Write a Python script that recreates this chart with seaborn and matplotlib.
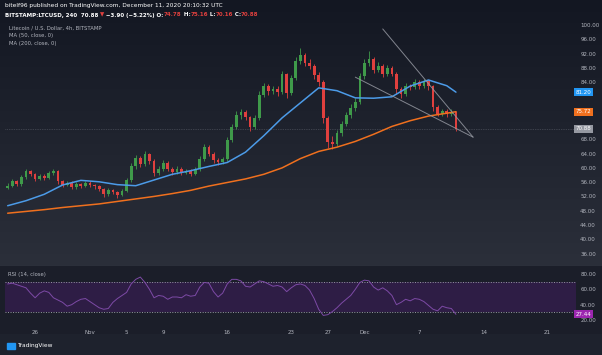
import numpy as np
import pandas as pd
import matplotlib
matplotlib.use("Agg")
import matplotlib.pyplot as plt
import matplotlib.dates as mdates
import matplotlib.transforms as mtransforms
from matplotlib.patches import Rectangle
import seaborn as sns

# ---- data (resampled to 12h candles) ----
first_open = 54.4
closes = [55.0, 56.2, 55.4, 57.5, 59.0, 58.2, 57.0, 57.8, 57.2, 58.6,
          59.2, 56.2, 55.2, 55.8, 54.6, 55.4, 55.0, 55.8, 55.2, 54.8,
          54.0, 52.6, 53.8, 53.2, 52.4, 53.6, 56.5, 60.5, 62.8, 61.0,
          63.8, 62.0, 58.6, 59.8, 61.4, 59.6, 58.8, 59.8, 58.6, 59.2,
          58.4, 59.6, 62.5, 65.8, 64.0, 62.2, 61.6, 62.4, 67.8, 71.5,
          74.8, 75.6, 74.2, 71.4, 74.0, 80.5, 82.8, 81.4, 82.0, 81.2,
          86.2, 81.0, 85.2, 89.8, 91.6, 89.4, 88.6, 86.0, 84.0, 74.0,
          67.2, 66.6, 69.8, 72.4, 74.8, 76.8, 78.4, 85.6, 89.4, 90.4,
          87.4, 88.6, 86.2, 88.0, 86.4, 82.0, 80.6, 83.0, 82.6, 84.0,
          82.8, 84.2, 82.8, 77.0, 75.2, 75.8, 75.0, 75.6, 70.88]
highs = [55.8, 56.8, 56.6, 58.0, 59.6, 59.4, 58.6, 58.4, 58.2, 59.2,
         59.8, 59.4, 56.6, 56.4, 56.2, 56.0, 55.8, 56.4, 56.2, 55.6,
         55.2, 54.4, 54.4, 54.2, 53.6, 54.2, 57.2, 61.4, 63.6, 63.4,
         64.8, 64.2, 62.4, 60.6, 62.2, 61.8, 60.2, 60.4, 60.2, 59.8,
         59.6, 60.2, 63.2, 66.8, 66.4, 64.4, 62.8, 63.0, 68.6, 72.4,
         75.8, 76.6, 76.2, 74.6, 74.8, 81.6, 83.8, 83.4, 83.0, 82.8,
         87.2, 86.6, 86.0, 91.0, 93.6, 92.2, 90.6, 89.2, 86.8, 84.6,
         74.6, 69.0, 70.6, 73.2, 75.6, 77.8, 79.6, 86.6, 90.4, 92.6,
         91.0, 89.6, 89.2, 88.8, 88.6, 86.8, 82.6, 83.8, 83.6, 85.0,
         84.6, 85.0, 84.6, 83.2, 77.6, 76.6, 76.4, 76.4, 75.9]
lows = [54.0, 54.6, 54.8, 55.0, 57.0, 57.6, 56.4, 56.6, 56.6, 56.8,
        58.0, 55.6, 54.6, 54.8, 54.0, 54.2, 54.4, 54.6, 54.6, 54.2,
        53.4, 51.8, 52.2, 52.6, 51.6, 52.0, 53.2, 56.0, 59.8, 60.2,
        60.6, 61.2, 57.8, 58.0, 59.2, 59.0, 58.0, 58.4, 58.0, 58.2,
        57.8, 58.0, 59.2, 62.0, 63.4, 61.4, 60.8, 61.0, 62.0, 67.2,
        71.0, 73.8, 73.4, 70.2, 70.8, 73.4, 79.8, 80.4, 80.6, 80.2,
        80.8, 79.6, 80.4, 84.6, 89.0, 88.4, 87.6, 84.8, 82.8, 72.6,
        65.6, 65.2, 66.0, 69.0, 71.8, 74.0, 76.0, 78.0, 85.0, 88.6,
        86.6, 86.8, 85.4, 85.6, 85.6, 80.6, 79.6, 80.2, 81.8, 82.0,
        82.2, 82.4, 81.8, 76.0, 74.4, 74.6, 74.2, 74.6, 70.2]
rsi = [67, 68, 66, 64, 62, 55, 49, 55, 58, 56,
       49, 46, 43, 38, 40, 44, 47, 48, 44, 40,
       36, 34, 35, 43, 48, 52, 56, 67, 73, 76,
       69, 60, 49, 52, 51, 47, 50, 50, 49, 53,
       51, 52, 63, 69, 68, 57, 50, 55, 67, 73,
       73, 71, 64, 63, 67, 71, 70, 67, 64, 65,
       63, 57, 62, 66, 67, 65, 59, 48, 34, 26,
       27, 31, 36, 42, 47, 52, 60, 69, 72, 71,
       63, 59, 62, 58, 52, 40, 43, 47, 45, 48,
       47, 44, 39, 34, 32, 38, 36, 35, 27.44]

# moving averages, sampled every 4th candle
ma_idx = list(range(0, 97, 4)) + [98]
ma50 = [49.4, 50.8, 52.6, 55.2, 56.5, 56.1, 55.3, 55.0, 56.6, 58.2, 59.2, 60.4, 61.5,
        64.4, 69.0, 74.0, 78.2, 82.4, 81.6, 79.6, 79.5, 79.9, 82.9, 84.6, 83.0, 81.2]
ma200 = [47.3, 47.8, 48.3, 48.9, 49.4, 49.9, 50.6, 51.3, 52.0, 52.8, 53.7, 54.9, 55.9,
         56.9, 58.2, 60.0, 62.6, 64.6, 65.8, 67.4, 69.4, 71.6, 73.2, 74.5, 75.3, 75.72]

# hand drawn wedge lines
trend_start = ["2020-12-03 00:00", "2020-11-30 00:00"]
trend_start_price = [98.9, 85.4]
trend_end = "2020-12-12 21:00"
trend_end_price = 68.6

tick_dates = ["2020-10-26", "2020-11-01", "2020-11-05", "2020-11-09", "2020-11-16",
              "2020-11-23", "2020-11-27", "2020-12-01", "2020-12-07", "2020-12-14", "2020-12-21"]
tick_labels = ["26", "Nov", "5", "9", "16", "23", "27", "Dec", "7", "14", "21"]
price_ticks = [36, 40, 44, 48, 52, 56, 60, 64, 68, 84, 88, 92, 96, 100]
rsi_ticks = [20, 40, 60, 80]

# ---- frame ----
dates = pd.date_range("2020-10-23", periods=len(closes), freq="12h")
xd = mdates.date2num(dates)
opens = [first_open] + closes[:-1]
df = pd.DataFrame({"x": xd, "open": opens, "close": closes, "high": highs, "low": lows, "rsi": rsi})
ma = pd.DataFrame({"x": xd[ma_idx], "ma50": ma50, "ma200": ma200})

sns.set_theme(style="dark")
plt.rcParams["font.family"] = ["DejaVu Sans"]

W, H = 602, 355
fig = plt.figure(figsize=(W / 100, H / 100), dpi=100, facecolor="#1c1f2b")

# background gradient
bg = fig.add_axes([0, 0, 1, 1], zorder=-5)
rows = np.zeros((H, 1, 3))
top = np.array([0x13, 0x17, 0x22]) / 255
mid = np.array([0x2b, 0x2f, 0x3a]) / 255
for r in range(H):
    if r < 266:
        t = r / 265
        rows[r, 0] = top * (1 - t) + mid * t
    elif r < 334:
        rows[r, 0] = np.array([0x1b, 0x1e, 0x29]) / 255
    else:
        rows[r, 0] = np.array([0x1e, 0x22, 0x2d]) / 255
bg.imshow(rows, aspect="auto", extent=[0, 1, 0, 1])
bg.set_axis_off()

xlim = mdates.date2num(pd.to_datetime(["2020-10-22 17:00", "2020-12-24 03:00"]))

ax = fig.add_axes([5 / W, 1 - 265 / H, 571 / W, 265 / H])
ax2 = fig.add_axes([5 / W, 1 - 324 / H, 571 / W, 57 / H], sharex=ax)
for a in (ax, ax2):
    a.set_facecolor("none")
    for s in a.spines.values():
        s.set_visible(False)

up, down = "#3f9a4a", "#e0403e"
cols = [up if c >= o else down for o, c in zip(df["open"], df["close"])]
ax.vlines(df["x"], df["low"], df["high"], colors=cols, lw=0.6, zorder=2)
ax.bar(df["x"], (df["close"] - df["open"]).abs().clip(lower=0.15),
       bottom=df[["open", "close"]].min(axis=1), width=0.3, color=cols,
       edgecolor=cols, linewidth=0, zorder=3)

sns.lineplot(data=ma, x="x", y="ma50", ax=ax, color="#4c9be8", lw=1.1, zorder=4)
sns.lineplot(data=ma, x="x", y="ma200", ax=ax, color="#f0701e", lw=1.1, zorder=4)

te = mdates.date2num(pd.Timestamp(trend_end))
for ds, ps in zip(trend_start, trend_start_price):
    ax.plot([mdates.date2num(pd.Timestamp(ds)), te], [ps, trend_end_price],
            color="#9598a1", lw=0.7, alpha=0.85, zorder=5)

ax.axhline(closes[-1], color="#787b86", lw=0.5, ls=(0, (1, 1.5)), alpha=0.7, zorder=1)

ax.set_xlim(*xlim)
ax.set_ylim(32.8, 107.0)
ax.yaxis.tick_right()
ax.set_yticks(price_ticks)
ax.set_yticklabels([f"{v:.2f}" for v in price_ticks])
ax.tick_params(axis="y", length=0, pad=3, labelsize=4, labelcolor="#b2b5be")
ax.tick_params(axis="x", bottom=False, labelbottom=False)
ax.set_xlabel("")
ax.set_ylabel("")

blend = mtransforms.blended_transform_factory(ax.transAxes, ax.transData)
for val, c in [(ma50[-1], "#2196f3"), (ma200[-1], "#f0701e"), (closes[-1], "#9598a1")]:
    ax.text(1.0, val, f"{val:.2f}", transform=blend, fontsize=4, color="white",
            va="center", ha="left", zorder=6,
            bbox=dict(boxstyle="square,pad=0.3", fc=c, ec="none"))

# RSI panel
ax2.axhspan(30, 70, color="#6a1b9a", alpha=0.25, lw=0, zorder=0)
for lvl in (70, 30):
    ax2.axhline(lvl, color="#9598a1", lw=0.7, ls=(0, (1, 1.6)), zorder=1)
sns.lineplot(data=df, x="x", y="rsi", ax=ax2, color="#7d4aa6", lw=0.7, zorder=2)
ax2.set_ylim(14.8, 89.1)
ax2.yaxis.tick_right()
ax2.set_yticks(rsi_ticks)
ax2.set_yticklabels([f"{v:.2f}" for v in rsi_ticks])
ax2.tick_params(axis="y", length=0, pad=3, labelsize=4, labelcolor="#b2b5be")
ax2.set_xticks(mdates.date2num(pd.to_datetime(tick_dates)))
ax2.set_xticklabels(tick_labels)
ax2.tick_params(axis="x", length=0, pad=4, labelsize=4, labelcolor="#b2b5be")
ax2.set_xlim(*xlim)
ax2.set_xlabel("")
ax2.set_ylabel("")
blend2 = mtransforms.blended_transform_factory(ax2.transAxes, ax2.transData)
ax2.text(1.0, rsi[-1], f"{rsi[-1]:.2f}", transform=blend2, fontsize=4, color="white",
         va="center", ha="left", zorder=6,
         bbox=dict(boxstyle="square,pad=0.3", fc="#9c27b0", ec="none"))
ax2.text(3 / 571, 0.86, "RSI (14, close)", transform=ax2.transAxes, fontsize=3.8,
         color="#b2b5be", va="center")

# header
fig.text(5 / W, 1 - 6 / H, "bitelf96 published on TradingView.com, December 11, 2020 20:10:32 UTC",
         fontsize=4.2, color="white", va="center")
parts = [("BITSTAMP:LTCUSD, 240  70.88 ", "white"), ("\u25bc", down), (" \u22123.90 (\u22125.22%) O:", "white"),
         ("74.78", down), (" H:", "white"), ("75.16", down), (" L:", "white"), ("70.16", down),
         (" C:", "white"), ("70.88", down)]
t = fig.text(5 / W, 1 - 15 / H, parts[0][0], fontsize=4, color=parts[0][1], va="center",
             fontweight="bold")
for s, c in parts[1:]:
    t = bg.annotate(s, xy=(1, 0.5), xycoords=t, xytext=(0, 0), textcoords="offset points",
                    fontsize=4, color=c, va="center", ha="left", fontweight="bold")
for i, s in enumerate(["Litecoin / U.S. Dollar, 4h, BITSTAMP", "MA (50, close, 0)", "MA (200, close, 0)"]):
    fig.text(9 / W, 1 - (28 + 8 * i) / H, s, fontsize=3.8, color="#b2b5be", va="center")

# footer logo
fig.patches.append(Rectangle((7 / W, 1 - 349 / H), 8 / W, 6 / H, transform=fig.transFigure,
                             color="#2196f3", zorder=3))
fig.text(17 / W, 1 - 346 / H, "TradingView", fontsize=4.2, color="white", va="center")

fig.savefig("out.png", dpi=100, facecolor=fig.get_facecolor())
